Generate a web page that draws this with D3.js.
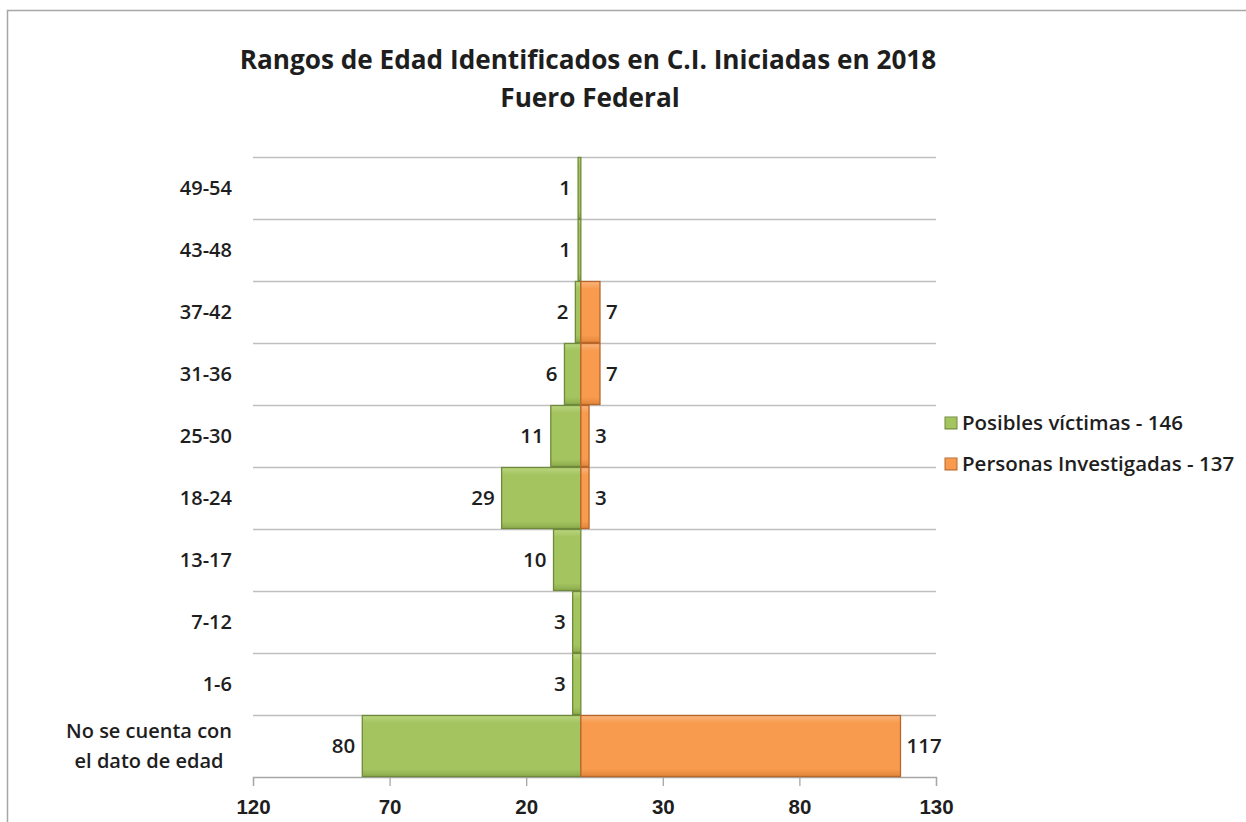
<!DOCTYPE html>
<html><head><meta charset="utf-8">
<script src="https://cdn.jsdelivr.net/npm/d3@7"></script>
<style>
body{margin:0;background:#fff;}
svg{display:block;font-family:"Open Sans","Noto Sans",sans-serif;}
</style></head>
<body>
<svg id="c" width="1246" height="822"></svg>
<script>
const categories = ["49-54","43-48","37-42","31-36","25-30","18-24","13-17","7-12","1-6","No se cuenta con|el dato de edad"];
const victimas = [1,1,2,6,11,29,10,3,3,80];
const investigadas = [0,0,7,7,3,3,0,0,0,117];
const tickValues = [-120,-70,-20,30,80,130];
const seriesNames = ["Posibles víctimas - 146","Personas Investigadas - 137"];
const titleLines = ["Rangos de Edad Identificados en C.I. Iniciadas en 2018","Fuero Federal"];

const svg = d3.select("#c");
const txt="#1e1e1e";
const FS=20.5;
svg.append("rect").attr("x",7.5).attr("y",10.5).attr("width",1300).attr("height",900)
  .attr("fill","#fff").attr("stroke","#a6a6a6").attr("stroke-width",1.5);

const defs=svg.append("defs");
function grad(id,c1,c2,c3){
  const g=defs.append("linearGradient").attr("id",id).attr("x1",0).attr("y1",0).attr("x2",0).attr("y2",1);
  g.append("stop").attr("offset","0%").attr("stop-color",c1);
  g.append("stop").attr("offset","12%").attr("stop-color",c2);
  g.append("stop").attr("offset","88%").attr("stop-color",c2);
  g.append("stop").attr("offset","100%").attr("stop-color",c3);
}
grad("gG","#bad67f","#a4c460","#8caa4c");
grad("gO","#fbb57e","#f89b4e","#e0853a");

const x=d3.scaleLinear().domain([-120,130]).range([253,936]);
const y=d3.scaleBand().domain(categories).range([157,777]).padding(0);

// grid lines
svg.append("g").selectAll("line").data(categories).join("line")
  .attr("x1",253).attr("x2",936).attr("y1",d=>y(d)+0.5).attr("y2",d=>y(d)+0.5)
  .attr("stroke","#bfbfbf").attr("stroke-width",1.3);

// axis
const ax=svg.append("g").attr("transform","translate(0,777)")
  .call(d3.axisBottom(x).tickValues(tickValues).tickSize(9).tickFormat(d=>Math.abs(d)));
ax.select(".domain").attr("stroke","#a6a6a6").attr("stroke-width",1.3);
ax.selectAll(".tick line").attr("stroke","#a6a6a6").attr("stroke-width",1.3);
ax.selectAll("text").attr("fill",txt).attr("font-size",FS).attr("font-weight",600).attr("y",30).attr("dy","0.35em");

// bars
svg.append("g").selectAll("rect").data(categories).join("rect")
  .attr("x",(d,i)=>x(-victimas[i])).attr("width",(d,i)=>x(0)-x(-victimas[i]))
  .attr("y",d=>y(d)+0.5).attr("height",y.bandwidth()-1)
  .attr("fill","url(#gG)").attr("stroke","#6f8a3a").attr("stroke-width",1.3);
svg.append("g").selectAll("rect").data(categories.filter((d,i)=>investigadas[i]>0)).join("rect")
  .attr("x",x(0)).attr("width",d=>x(investigadas[categories.indexOf(d)])-x(0))
  .attr("y",d=>y(d)+0.5).attr("height",y.bandwidth()-1)
  .attr("fill","url(#gO)").attr("stroke","#b9662a").attr("stroke-width",1.3);

// data labels
const gl=svg.append("g");
categories.forEach((c,i)=>{
  const cy=y(c)+y.bandwidth()/2;
  gl.append("text").attr("x",x(-victimas[i])-7).attr("y",cy).attr("dy","0.35em")
    .attr("text-anchor","end").attr("font-size",FS).attr("font-weight",600).attr("fill",txt).text(victimas[i]);
  if(investigadas[i]>0)
    gl.append("text").attr("x",x(investigadas[i])+6).attr("y",cy).attr("dy","0.35em")
      .attr("text-anchor","start").attr("font-size",FS).attr("font-weight",600).attr("fill",txt).text(investigadas[i]);
});

// category labels
const gc=svg.append("g");
categories.forEach(c=>{
  const lines=c.split("|");
  const cy=y(c)+y.bandwidth()/2;
  const t=gc.append("text").attr("font-size",FS-0.5).attr("font-weight",600).attr("fill",txt);
  lines.forEach((l,k)=>{
    t.append("tspan").attr("y",cy+(k-(lines.length-1)/2)*30).attr("dy","0.35em").text(l);
  });
  let maxW=0; t.selectAll("tspan").each(function(){maxW=Math.max(maxW,this.getComputedTextLength());});
  const cx=232-maxW/2;
  t.attr("text-anchor","middle").selectAll("tspan").attr("x",cx);
});

// title
const tt=svg.append("text").attr("font-size",24).attr("font-weight",700).attr("fill",txt).attr("text-anchor","middle");
tt.append("tspan").attr("x",588).attr("y",69).text(titleLines[0]);
tt.append("tspan").attr("x",590).attr("y",107).text(titleLines[1]);
const w0=tt.select("tspan").node().getComputedTextLength();
tt.attr("font-size",24*697/w0);

// legend
const colors=["url(#gG)","url(#gO)"];
const strokes=["#6f8a3a","#b9662a"];
seriesNames.forEach((s,i)=>{
  const ly=423+i*41;
  svg.append("rect").attr("x",945).attr("y",ly-6).attr("width",12).attr("height",12)
    .attr("fill",colors[i]).attr("stroke",strokes[i]).attr("stroke-width",1);
  svg.append("text").attr("x",962).attr("y",ly).attr("dy","0.35em").attr("font-size",FS).attr("font-weight",600).attr("fill",txt).text(s);
});
</script>
</body></html>
